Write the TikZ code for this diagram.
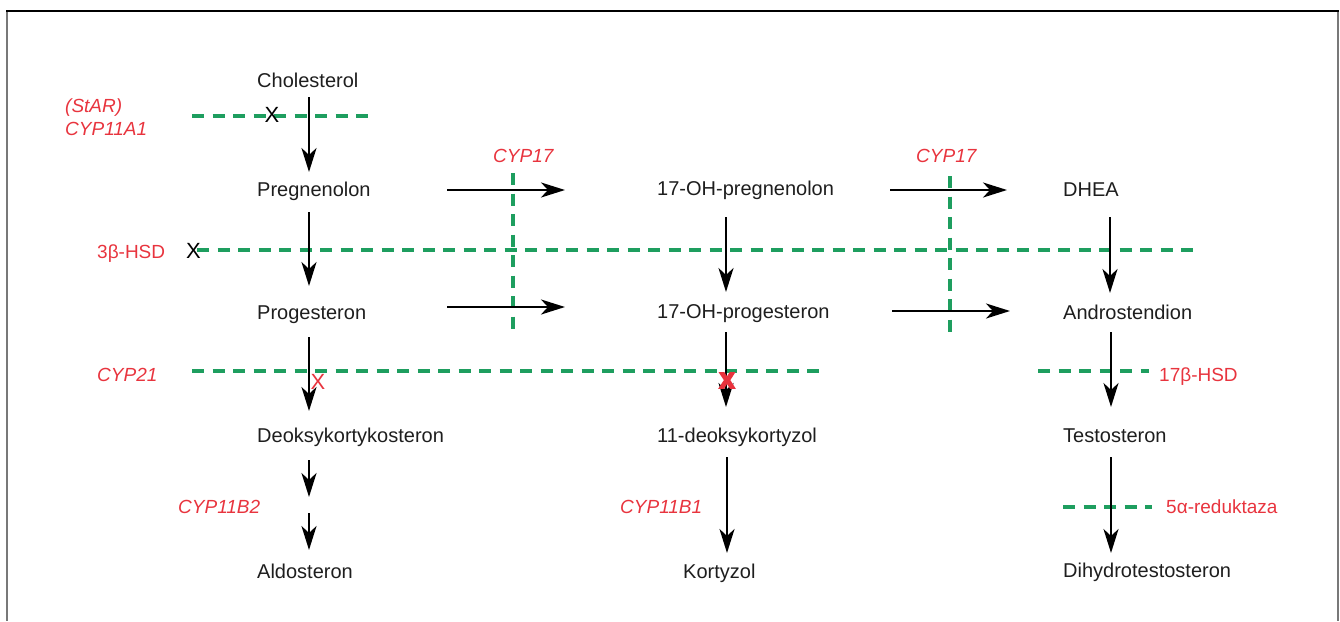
\documentclass[tikz,border=0pt]{standalone}
\usepackage{fontspec}
\setmainfont{Liberation Sans}
\usetikzlibrary{arrows.meta}
\definecolor{grn}{RGB}{30,158,95}
\definecolor{rd}{RGB}{232,52,62}
\definecolor{txt}{RGB}{30,30,30}
\definecolor{frm}{RGB}{120,120,120}
\newcommand{\heavyX}{\special{pdf:literal direct 0.91 0.2 0.24 RG 2 Tr 2.2 w}X\special{pdf:literal direct 0 Tr}}
\tikzset{
  comp/.style={anchor=base west, inner sep=0pt, font=\fontsize{20}{24}\selectfont, text=txt},
  enz/.style={anchor=base west, inner sep=0pt, font=\fontsize{19}{23}\selectfont\itshape, text=rd},
  enzup/.style={anchor=base west, inner sep=0pt, font=\fontsize{19}{23}\selectfont, text=rd},
  arr/.style={-{Stealth[length=24pt,width=15pt,inset=7pt]}, line width=2.6pt, draw=black},
  gline/.style={draw=grn, line width=3.6pt, dash pattern=on 12pt off 8.5pt},
  xmark/.style={anchor=center, inner sep=0pt, font=\fontsize{22}{24}\selectfont},
  xbold/.style={anchor=center, inner sep=0pt, font=\fontsize{21}{24}\bfseries, text=rd}
}
\begin{document}
\begin{tikzpicture}[x=1pt,y=-1pt]
\useasboundingbox (0,0) rectangle (1340,621);
% frame
\draw[frm, line width=2pt] (7,11) -- (7,621);
\draw[frm, line width=2pt] (1338,11) -- (1338,621);
\draw[black, line width=1.2pt] (6,11) -- (1339,11);

% compounds
\node[comp] (chol) at (257,87) {Cholesterol};
\node[comp] (preg) at (257,196) {Pregnenolon};
\node[comp] (prog) at (257,319) {Progesteron};
\node[comp] (doc) at (257,442) {Deoksykortykosteron};
\node[comp] (aldo) at (257,578) {Aldosteron};
\node[comp] (ohpreg) at (657,195) {17-OH-pregnenolon};
\node[comp] (ohprog) at (657,318) {17-OH-progesteron};
\node[comp] (dcort) at (657,442) {11-deoksykortyzol};
\node[comp] (kort) at (683,578) {Kortyzol};
\node[comp] (dhea) at (1063,196) {DHEA};
\node[comp] (andro) at (1063,319) {Androstendion};
\node[comp] (testo) at (1063,442) {Testosteron};
\node[comp] (dht) at (1063,577) {Dihydrotestosteron};

% enzymes
\node[enz] (star) at (65,112) {(StAR)};
\node[enz] (cyp11a1) at (65,135) {CYP11A1};
\node[enzup] (hsd3) at (97,258) {3β-HSD};
\node[enz] (cyp17a) at (493,162) {CYP17};
\node[enz] (cyp17b) at (916,162) {CYP17};
\node[enz] (cyp21) at (97,381) {CYP21};
\node[enzup] (hsd17) at (1159,381) {17β-HSD};
\node[enz] (cyp11b2) at (178,513) {CYP11B2};
\node[enz] (cyp11b1) at (620,513) {CYP11B1};
\node[enzup] (red5) at (1166,513) {5α-reduktaza};

% green block lines
\coordinate (g1a) at (192,116); \coordinate (g1b) at (371,116);
\coordinate (g2a) at (197,250); \coordinate (g2b) at (1199,250);
\coordinate (g3a) at (192,371); \coordinate (g3b) at (827,371);
\coordinate (g4a) at (1038,371); \coordinate (g4b) at (1149,371);
\coordinate (g5a) at (1063,507); \coordinate (g5b) at (1152,507);
\coordinate (v1a) at (513,173); \coordinate (v1b) at (513,333);
\coordinate (v2a) at (950,176); \coordinate (v2b) at (950,335);
\draw[gline] (g1a) -- (g1b);
\draw[gline] (g2a) -- (g2b);
\draw[gline] (g3a) -- (g3b);
\draw[gline] (g4a) -- (g4b);
\draw[gline] (g5a) -- (g5b);
\draw[gline] (v1a) -- (v1b);
\draw[gline] (v2a) -- (v2b);

% arrow end points
\coordinate (a1s) at (309,97);  \coordinate (a1e) at (309,172);
\coordinate (a2s) at (309,212); \coordinate (a2e) at (309,286);
\coordinate (a3s) at (309,337); \coordinate (a3e) at (309,411);
\coordinate (a4s) at (309,460); \coordinate (a4e) at (309,497);
\coordinate (a5s) at (309,513); \coordinate (a5e) at (309,550);
\coordinate (b1s) at (726,217); \coordinate (b1e) at (726,292);
\coordinate (b2s) at (726,332); \coordinate (b2e) at (726,407);
\coordinate (b3s) at (727,457); \coordinate (b3e) at (727,553);
\coordinate (c1s) at (1110,217); \coordinate (c1e) at (1110,293);
\coordinate (c2s) at (1111,332); \coordinate (c2e) at (1111,407);
\coordinate (c3s) at (1111,457); \coordinate (c3e) at (1111,553);
\coordinate (h1s) at (447,190); \coordinate (h1e) at (565,190);
\coordinate (h2s) at (447,307); \coordinate (h2e) at (565,307);
\coordinate (h3s) at (890,190); \coordinate (h3e) at (1007,190);
\coordinate (h4s) at (892,311); \coordinate (h4e) at (1010,311);

\draw[arr] (a1s) -- (a1e);
\draw[arr] (a2s) -- (a2e);
\draw[arr] (a3s) -- (a3e);
\draw[arr] (a4s) -- (a4e);
\draw[arr] (a5s) -- (a5e);
\draw[arr] (b1s) -- (b1e);
\draw[arr] (b2s) -- (b2e);
\draw[arr] (b3s) -- (b3e);
\draw[arr] (c1s) -- (c1e);
\draw[arr] (c2s) -- (c2e);
\draw[arr] (c3s) -- (c3e);
\draw[arr] (h1s) -- (h1e);
\draw[arr] (h2s) -- (h2e);
\draw[arr] (h3s) -- (h3e);
\draw[arr] (h4s) -- (h4e);

% block marks
\node[xmark, text=black] (x1) at (272,115) {X};
\node[xmark, text=black] (x2) at (193.5,251) {X};
\node[xmark, text=rd] (x3) at (318,381.5) {X};
\node[xbold] (x4) at (727,380.5) {\heavyX};
\end{tikzpicture}
\end{document}
